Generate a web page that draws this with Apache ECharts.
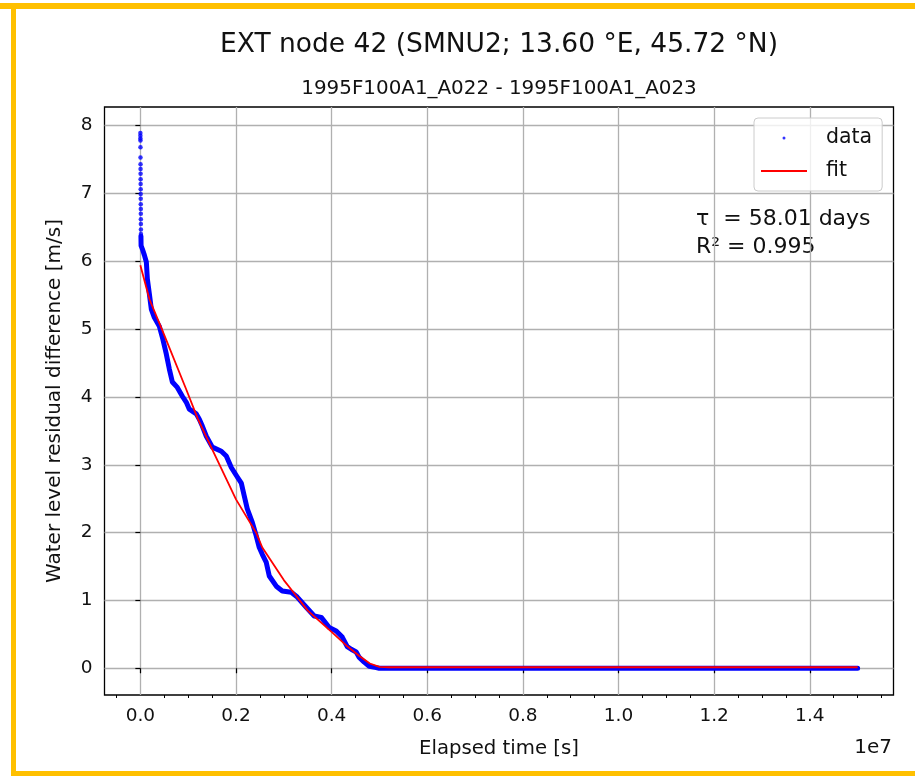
<!DOCTYPE html>
<html>
<head>
<meta charset="utf-8">
<script src="https://cdn.jsdelivr.net/npm/echarts@6/dist/echarts.min.js"></script>
<style>
html,body{margin:0;padding:0;background:#fff;}
#c{width:915px;height:776px;}
</style>
</head>
<body>
<div id="c"></div>
<script>
// ---- data (x in seconds, y in m/s) ----
const dataColumnX = [0,600,1200,1800,2400,3000,3600,4200,4800,5400,6000,6600,7200,7800,8400,9000,9600,10200,10800,11400,12000];
const dataColumnY = [7.89,7.85,7.81,7.78,7.68,7.53,7.43,7.36,7.29,7.21,7.14,7.06,6.99,6.92,6.84,6.77,6.70,6.62,6.55,6.47,6.40];

const dataBandX = [12000,15000,42000,84000,125000,146000,188000,230000,293000,397000,460000,543000,606000,669000,773000,878000,961000,1024000,1170000,1233000,1296000,1379000,1505000,1693000,1797000,1902000,2027000,2111000,2173000,2236000,2341000,2424000,2487000,2550000,2633000,2696000,2842000,2968000,3156000,3281000,3469000,3636000,3783000,3950000,4096000,4222000,4326000,4410000,4514000,4577000,4681000,4786000,4932000,4995000,15000000];
const dataBandY = [6.37,6.23,6.18,6.09,5.99,5.74,5.52,5.29,5.17,5.04,4.88,4.63,4.41,4.22,4.14,4.01,3.92,3.82,3.75,3.67,3.57,3.42,3.26,3.20,3.13,2.96,2.82,2.73,2.54,2.35,2.15,1.95,1.78,1.68,1.56,1.36,1.21,1.14,1.12,1.05,0.90,0.77,0.75,0.60,0.55,0.46,0.32,0.28,0.24,0.16,0.09,0.03,0.01,0.0,0.0];

const fitX = [0,190000,460000,960000,1200000,1500000,2000000,2420000,2550000,3000000,3180000,3500000,4010000,4300000,4580000,4800000,5000000,5200000,15000000];
const fitY = [5.94,5.44,4.98,4.11,3.68,3.23,2.49,2.00,1.78,1.30,1.14,0.85,0.53,0.34,0.18,0.07,0.02,0.015,0.015];

const xMajorTicks = [0,2000000,4000000,6000000,8000000,10000000,12000000,14000000];
const xMinorTicks = [-500000,500000,1000000,1500000,2500000,3000000,3500000,4500000,5000000,5500000,6500000,7000000,7500000,8500000,9000000,9500000,10500000,11000000,11500000,12500000,13000000,13500000,14500000,15000000,15500000];
const yTicks = [0,1,2,3,4,5,6,7,8];

const titleText = 'EXT node 42 (SMNU2; 13.60 °E, 45.72 °N)';
const subtitleText = '1995F100A1_A022 - 1995F100A1_A023';
const xLabelText = 'Elapsed time [s]';
const yLabelText = 'Water level residual difference [m/s]';
const annotLines = ['τ  = 58.01 days', 'R² = 0.995'];

const zip = (a, b) => a.map((v, i) => [v, b[i]]);
const FONT = 'DejaVu Sans';
const TXT = '#111';

const chart = echarts.init(document.getElementById('c'), null, {renderer: 'canvas'});
const xMin = -750000, xMax = 15750000;
chart.setOption({
  animation: false,
  backgroundColor: '#fff',
  grid: {left: 104.5, top: 107, right: 21.5, bottom: 81, show: true, borderColor: '#000', borderWidth: 1.3, backgroundColor: 'transparent'},
  xAxis: [{
    type: 'value', min: xMin, max: xMax,
    axisLine: {show: false},
    axisTick: {show: true, inside: false, length: 5, customValues: xMajorTicks, lineStyle: {color: '#000', width: 1.2}},
    axisLabel: {customValues: xMajorTicks, margin: 12, color: TXT, fontFamily: FONT, fontSize: 18.5,
      formatter: v => (v / 1e7).toFixed(1)},
    splitLine: {show: true, lineStyle: {color: '#b0b0b0', width: 1.3}}
  }, {
    type: 'value', min: xMin, max: xMax, position: 'bottom',
    axisLine: {show: false},
    axisTick: {show: true, inside: false, length: 3, customValues: xMinorTicks, lineStyle: {color: '#000', width: 1}},
    axisLabel: {show: false},
    splitLine: {show: false}
  }],
  yAxis: {
    type: 'value', min: -0.394, max: 8.274,
    axisLine: {show: false},
    axisTick: {show: true, inside: false, length: 5, customValues: yTicks, lineStyle: {color: '#000', width: 1.2}},
    axisLabel: {customValues: yTicks, margin: 12, color: TXT, fontFamily: FONT, fontSize: 18.5},
    splitLine: {show: true, lineStyle: {color: '#b0b0b0', width: 1.3}}
  },
  legend: {
    orient: 'vertical', left: 754, top: 118,
    padding: [9, 10, 9, 7], itemGap: 11, itemWidth: 46, itemHeight: 3,
    backgroundColor: 'rgba(255,255,255,0.8)', borderColor: '#cccccc', borderWidth: 1, borderRadius: 4,
    textStyle: {fontFamily: FONT, fontSize: 20.5, color: TXT, lineHeight: 22, padding: [0, 0, 0, 14]},
    data: [
      {name: 'data', icon: 'circle', itemStyle: {color: '#0000ff'}},
      {name: 'fit', icon: 'path://M0,0H46V2H0Z', itemStyle: {color: '#ff0000'}}
    ]
  },
  series: [
    {name: 'data', type: 'scatter', symbol: 'circle', symbolSize: 4.5, itemStyle: {color: '#0000ff'},
      data: zip(dataColumnX, dataColumnY), z: 3},
    {name: 'data', type: 'line', showSymbol: false, symbol: 'none', lineStyle: {color: '#0000ff', width: 5, cap: 'round', join: 'round'},
      itemStyle: {color: '#0000ff'}, data: zip(dataBandX, dataBandY), z: 3},
    {name: 'fit', type: 'line', showSymbol: false, symbol: 'none', lineStyle: {color: '#ff0000', width: 1.8},
      itemStyle: {color: '#ff0000'}, data: zip(fitX, fitY), z: 4}
  ],
  graphic: [
    {type: 'rect', shape: {x: 0, y: 3, width: 915, height: 6}, style: {fill: '#ffc000'}, silent: true},
    {type: 'rect', shape: {x: 11, y: 3, width: 5, height: 773}, style: {fill: '#ffc000'}, silent: true},
    {type: 'rect', shape: {x: 11, y: 771, width: 904, height: 5}, style: {fill: '#ffc000'}, silent: true},
    {type: 'text', x: 499, y: 45, style: {text: titleText, fontFamily: FONT, fontSize: 26.5, fill: TXT, align: 'center', verticalAlign: 'middle'}},
    {type: 'text', x: 499, y: 89, style: {text: subtitleText, fontFamily: FONT, fontSize: 19.9, fill: TXT, align: 'center', verticalAlign: 'middle'}},
    {type: 'text', x: 499, y: 749, style: {text: xLabelText, fontFamily: FONT, fontSize: 19.7, fill: TXT, align: 'center', verticalAlign: 'middle'}},
    {type: 'text', x: 892, y: 748, style: {text: '1e7', fontFamily: FONT, fontSize: 20, fill: TXT, align: 'right', verticalAlign: 'middle'}},
    {type: 'text', x: 55, y: 401, rotation: Math.PI / 2, style: {text: yLabelText, fontFamily: FONT, fontSize: 20, fill: TXT, align: 'center', verticalAlign: 'middle'}},
    {type: 'text', x: 696, y: 219, style: {text: annotLines[0], fontFamily: FONT, fontSize: 22, fill: TXT, align: 'left', verticalAlign: 'middle'}},
    {type: 'text', x: 696, y: 247, style: {text: annotLines[1], fontFamily: FONT, fontSize: 22, fill: TXT, align: 'left', verticalAlign: 'middle'}}
  ]
});
</script>
</body>
</html>
